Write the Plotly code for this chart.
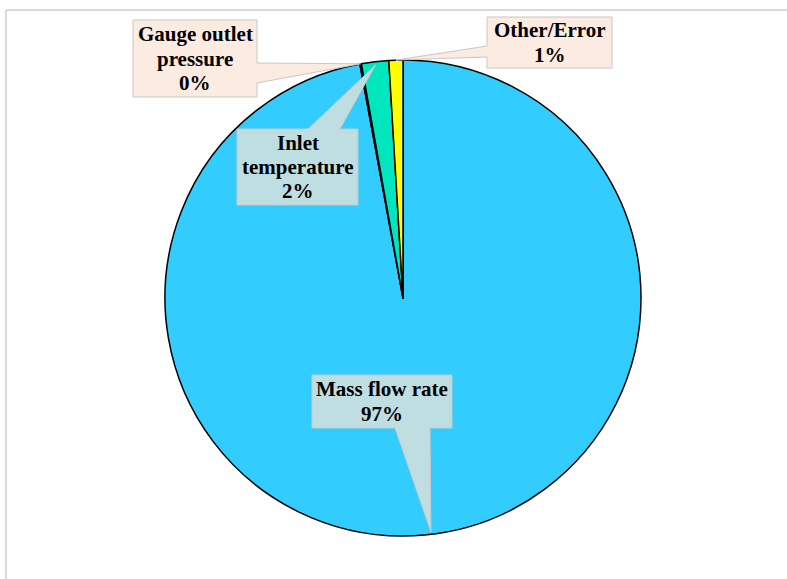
import math
import plotly.graph_objects as go

# Share of each contribution (percent)
categories = ["Mass flow rate", "Gauge outlet pressure", "Inlet temperature", "Other/Error"]
shares = [97.1, 0.1, 1.85, 0.95]
slice_colors = ["#33CCFF", "#FF9966", "#00E6BE", "#FFFF00"]

W, H = 787, 579

# Pie placement in pixels: centre and radius
CX, CY, R = 403, 298, 238

# Callout boxes (pixel rectangles), tail attachment edge and base span,
# the radial fraction where the tail tip lands, and a small angular nudge.
callouts = {
    "Mass flow rate": dict(box=(312, 375, 452, 428), edge="bottom", base=(395, 430),
                           tip_r=0.99, nudge=-1.6, fill="#BFDEE2"),
    "Gauge outlet pressure": dict(box=(133, 20, 257, 97), edge="right", base=(63, 83),
                                  tip_r=1.0, nudge=0.0, fill="#FBEBE1"),
    "Inlet temperature": dict(box=(237, 129, 358, 205), edge="top", base=(308, 340),
                              tip_r=0.985, nudge=0.0, fill="#BFDEE2"),
    "Other/Error": dict(box=(487, 17, 612, 68), edge="left", base=(46, 57),
                        tip_r=1.0, nudge=0.0, fill="#FBEBE1"),
}
label_lines = {
    "Mass flow rate": ["Mass flow rate"],
    "Gauge outlet pressure": ["Gauge outlet", "pressure"],
    "Inlet temperature": ["Inlet", "temperature"],
    "Other/Error": ["Other/Error"],
}
LINE_STEP = 24.5
FONT = dict(family="Liberation Serif", size=21, color="black")


def px(x):
    return x / W


def py(y):
    return 1 - y / H


total = sum(shares)

# Mid-angle of each slice, clockwise from 12 o'clock
mid_angles = {}
start = 0.0
for name, v in zip(categories, shares):
    sweep = v / total * 360
    mid_angles[name] = start + sweep / 2
    start += sweep

fig = go.Figure(
    go.Pie(
        labels=categories,
        values=shares,
        sort=False,
        direction="clockwise",
        rotation=0,
        marker=dict(colors=slice_colors, line=dict(color="black", width=1.5)),
        textinfo="none",
        hoverinfo="label+percent",
        domain=dict(x=[px(CX - R), px(CX + R)], y=[py(CY + R), py(CY - R)]),
        showlegend=False,
    )
)

shapes = []
annotations = []
for name, v in zip(categories, shares):
    c = callouts[name]
    ang = math.radians(mid_angles[name] + c["nudge"])
    tx = CX + c["tip_r"] * R * math.sin(ang)
    ty = CY - c["tip_r"] * R * math.cos(ang)
    x0, y0, x1, y1 = c["box"]
    b0, b1 = c["base"]
    if c["edge"] == "bottom":
        pts = [(x0, y0), (x1, y0), (x1, y1), (b1, y1), (tx, ty), (b0, y1), (x0, y1)]
    elif c["edge"] == "top":
        pts = [(x0, y0), (b0, y0), (tx, ty), (b1, y0), (x1, y0), (x1, y1), (x0, y1)]
    elif c["edge"] == "right":
        pts = [(x0, y0), (x1, y0), (x1, b0), (tx, ty), (x1, b1), (x1, y1), (x0, y1)]
    else:
        pts = [(x0, y0), (x1, y0), (x1, y1), (x0, y1), (x0, b1), (tx, ty), (x0, b0)]
    path = "M " + " L ".join(f"{px(a):.5f},{py(b):.5f}" for a, b in pts) + " Z"
    shapes.append(dict(type="path", path=path, xref="paper", yref="paper",
                       fillcolor=c["fill"], line=dict(color="#C8C8C8", width=1),
                       layer="above"))
    pct = f"{round(v / total * 100)}%"
    lines = label_lines[name] + [pct]
    cxm, cym = (x0 + x1) / 2, (y0 + y1) / 2
    n = len(lines)
    for i, t in enumerate(lines):
        ly = cym + (i - (n - 1) / 2) * LINE_STEP
        annotations.append(dict(x=px(cxm), y=py(ly), xref="paper", yref="paper",
                                text=f"<b>{t}</b>", showarrow=False,
                                xanchor="center", yanchor="middle", font=FONT))

# Thin frame along the top and left edges
shapes.append(dict(type="line", xref="paper", yref="paper", x0=px(6), x1=1, y0=py(10), y1=py(10),
                   line=dict(color="#DADADA", width=2)))
shapes.append(dict(type="line", xref="paper", yref="paper", x0=px(6), x1=px(6), y0=py(10), y1=0,
                   line=dict(color="#DADADA", width=2)))

fig.update_layout(
    width=W, height=H,
    margin=dict(l=0, r=0, t=0, b=0),
    paper_bgcolor="white", plot_bgcolor="white",
    shapes=shapes, annotations=annotations,
)

fig.write_html("out.html")
